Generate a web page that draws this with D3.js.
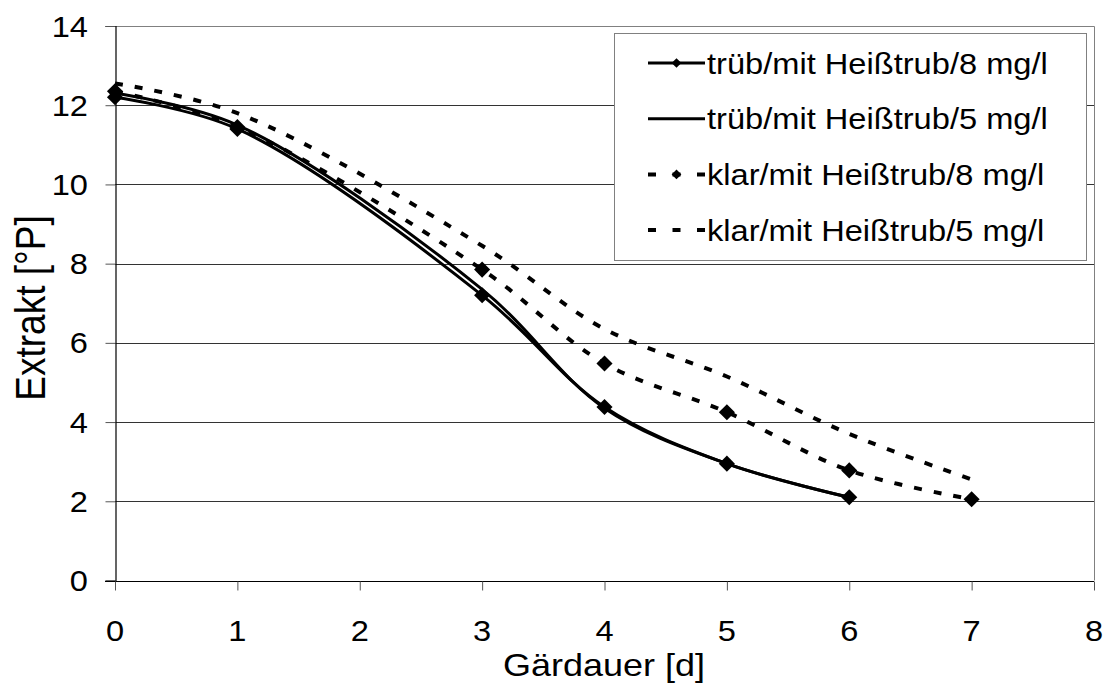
<!DOCTYPE html>
<html>
<head>
<meta charset="utf-8">
<script src="https://cdn.jsdelivr.net/npm/d3@7"></script>
<style>
  body { margin: 0; background: #fff; }
  svg text { font-family: "Liberation Sans", Arial, sans-serif; fill: #000; }
</style>
</head>
<body>
<div id="chart"></div>
<script>
// values
var days8 = [0, 1, 3, 4, 5, 6];          // trüb series
var days7 = [0, 1, 3, 4, 5, 6, 7];       // klar series
var truebHT8 = [12.2, 11.4, 7.2, 4.38, 2.95, 2.1];
var truebHT5 = [12.3, 11.5, 7.35, 4.35, 2.95, 2.1];
var klarHT8 = [12.35, 11.45, 7.85, 5.48, 4.25, 2.78, 2.05];
var klarHT5 = [12.55, 11.8, 8.45, 6.35, 5.15, 3.7, 2.55];

var seriesNames = ["trüb/mit Heißtrub/8 mg/l", "trüb/mit Heißtrub/5 mg/l",
                   "klar/mit Heißtrub/8 mg/l", "klar/mit Heißtrub/5 mg/l"];
var xTicks = [0, 1, 2, 3, 4, 5, 6, 7, 8];
var yTicks = [0, 2, 4, 6, 8, 10, 12, 14];

var width = 1107, height = 684;
var sx = 1.125; // text in the picture is a bit wider than tall

var series = [
    {name: seriesNames[0], x: days8, y: truebHT8, dashed: false, marker: true},
    {name: seriesNames[1], x: days8, y: truebHT5, dashed: false, marker: false},
    {name: seriesNames[2], x: days7, y: klarHT8, dashed: true, marker: true},
    {name: seriesNames[3], x: days7, y: klarHT5, dashed: true, marker: false}
];

var svg = d3.select("#chart").append("svg")
    .attr("width", width)
    .attr("height", height);

var x = d3.scaleLinear().domain([0, 8]).range([115, 1094]);
var y = d3.scaleLinear().domain([0, 14]).range([580.5, 26]);

function label(g, tx, ty, txt, size, anchor, rot) {
    return g.append("text")
        .attr("transform", "translate(" + tx + "," + ty + ") scale(" + sx + ",1)" + (rot ? " rotate(" + rot + ")" : ""))
        .attr("text-anchor", anchor)
        .style("font-size", size + "px")
        .text(txt);
}

// grid
svg.append("g")
    .selectAll("line")
    .data(yTicks.slice(1, -1))
    .enter().append("line")
    .attr("x1", x(0)).attr("x2", x(8))
    .attr("y1", function(d) { return Math.round(y(d)) + 0.5; })
    .attr("y2", function(d) { return Math.round(y(d)) + 0.5; })
    .attr("stroke", "#333")
    .attr("stroke-width", 1);

// plot frame top/right
svg.append("path")
    .attr("d", "M" + x(0) + "," + (Math.round(y(14)) + 0.5) + "H" + (Math.round(x(8)) + 0.5) + "V" + y(0))
    .attr("fill", "none")
    .attr("stroke", "#808080")
    .attr("stroke-width", 1);

// axes
var yAxis = svg.append("g")
    .attr("transform", "translate(" + (x(0) + 0.5) + ",0)")
    .call(d3.axisLeft(y).tickValues(yTicks).tickSize(10).tickFormat(""));
var xAxis = svg.append("g")
    .attr("transform", "translate(0," + (Math.round(y(0)) + 0.5) + ")")
    .call(d3.axisBottom(x).tickValues(xTicks).tickSize(9).tickFormat(""));
[xAxis, yAxis].forEach(function(a) {
    a.select(".domain").attr("stroke", "#000").attr("stroke-width", 1.2);
    a.selectAll(".tick line").attr("stroke", "#555");
});
xAxis.select(".domain").attr("d", "M" + (x(0) - 10) + ",0H" + x(8));

var tl = svg.append("g");
yTicks.forEach(function(t) { label(tl, 88, y(t) + 10.5, t, 29, "end"); });
xTicks.forEach(function(t) { label(tl, x(t), 641, t, 29, "middle"); });

label(svg, 604, 676, "Gärdauer [d]", 32, "middle");
label(svg, 45, 308, "Extrakt [°P]", 37, "middle", -90);

// lines
var line = d3.line()
    .x(function(d) { return x(d[0]); })
    .y(function(d) { return y(d[1]); })
    .curve(d3.curveCatmullRom);

var diamond = d3.symbol().type(d3.symbolDiamond2);

series.forEach(function(s) {
    var pts = s.x.map(function(d, i) { return [d, s.y[i]]; });
    svg.append("path")
        .datum(pts)
        .attr("d", line)
        .attr("fill", "none")
        .attr("stroke", "#000")
        .attr("stroke-width", s.dashed ? 4 : 3)
        .attr("stroke-dasharray", s.dashed ? "8,12" : null);
    if (s.marker) {
        svg.append("g").selectAll("path")
            .data(pts)
            .enter().append("path")
            .attr("d", diamond.size(165))
            .attr("transform", function(d) { return "translate(" + x(d[0]) + "," + y(d[1]) + ")"; })
            .attr("fill", "#000");
    }
});

// legend
var lg = svg.append("g");
lg.append("rect")
    .attr("x", 614.5).attr("y", 33.5)
    .attr("width", 472).attr("height", 227)
    .attr("fill", "#fff")
    .attr("stroke", "#808080");

series.forEach(function(s, i) {
    var cy = 63 + i * 55.7;
    lg.append("line")
        .attr("x1", 648).attr("x2", 705)
        .attr("y1", cy).attr("y2", cy)
        .attr("stroke", "#000")
        .attr("stroke-width", s.dashed ? 4 : 3)
        .attr("stroke-dasharray", s.dashed ? "8,16.5" : null);
    if (s.marker) {
        lg.append("path")
            .attr("d", diamond.size(60))
            .attr("transform", "translate(676.5," + cy + ")")
            .attr("fill", "#000");
    }
    label(lg, 707, cy + 10.5, s.name, 29, "start");
});
</script>
</body>
</html>
